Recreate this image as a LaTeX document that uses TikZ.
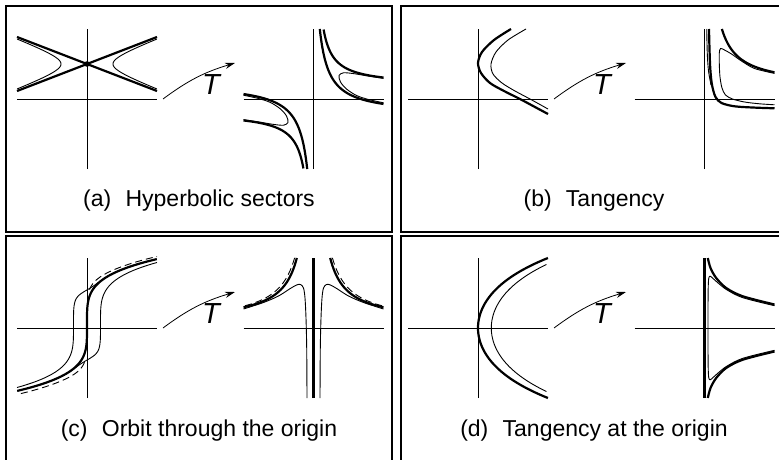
\documentclass[tikz,border=0pt]{standalone}
\usepackage{fontspec}
\setmainfont{Liberation Sans}
\usetikzlibrary{arrows.meta,positioning,calc}

\begin{document}
\begin{tikzpicture}[x=1pt,y=1pt,
    panel/.style={draw,line width=1.8pt},
    axline/.style={line width=0.8pt},
    orb/.style={line width=2.2pt},
    aux/.style={line width=0.9pt},
    dashorb/.style={line width=0.9pt,dash pattern=on 7pt off 4pt},
    maparr/.style={line width=0.8pt,-{Stealth[length=10pt,width=6pt]},bend left=10},
    lab/.style={font=\fontsize{29}{29}\selectfont\itshape,inner sep=0pt},
    subcap/.style={font=\fontsize{23}{27}\selectfont,anchor=base,inner sep=0pt},
  ]
  \useasboundingbox (0,0) rectangle (779,459);
  \clip (0,0) rectangle (779,459);
  \foreach \p/\fx/\fy/\txt in {a/6/227/Hyperbolic sectors,b/401/227/Tangency,c/6/-3/Orbit through the origin,d/401/-3/Tangency at the origin} {
    \draw[panel] (\fx,\fy) rectangle ++(386,226);
    \node[subcap] (cap\p) at (\fx+193,\fy+26) {(\p)\hspace{0.62em}\txt};
  }
  \foreach \p/\ox/\oy in {a/87/360,b/478/360,c/87/131,d/478/131} {
    \coordinate (\p0) at (\ox,\oy);
    \coordinate (\p1) at (\ox+226.5,\oy);
    \draw[axline] (\ox-70,\oy) -- (\ox+70,\oy) (\ox,\oy-70) -- (\ox,\oy+70);
    \draw[axline] (\ox+156.5,\oy) -- (\ox+296.5,\oy) (\ox+226.5,\oy-70) -- (\ox+226.5,\oy+70);
    \coordinate (\p s) at ($(\p0)+(76,0)$);
    \coordinate (\p e) at ($(\p0)+(148,36)$);
    \draw[maparr] (\p s) to (\p e);
    \node[lab] (T\p) at ($(\p0)+(124,14)$) {T};
  }
  % (a)
  \begin{scope}[shift={(a0)}]
    \draw[orb] (-70,8) -- (70,62) (-70,62) -- (70,8);
    \fill (0,35) circle (2.8);
    \draw[aux] plot[domain=-1.645:1.645,samples=40,variable=\t] ({26*cosh(\t)},{35+10*sinh(\t)});
    \draw[aux] plot[domain=-1.645:1.645,samples=40,variable=\t] ({-26*cosh(\t)},{35+10*sinh(\t)});
  \end{scope}
  \foreach \r in {0,180} {
    \begin{scope}[shift={(a1)},rotate=\r]
      \draw[orb] plot[domain=10.1:70,samples=100] (\x,{13.4+566/\x});
      \draw[orb] plot[domain=6.3:70,samples=100] (\x,{-15.9+799/(\x+3)});
      \draw[aux] plot[smooth] coordinates {(70,20.6) (55,22.9) (40,25.4) (30,26.2) (25.5,23.5) (27,17) (33,10) (43,3.5) (55,-0.5) (70,-3.8)};
    \end{scope}
  }
  % (b)
  \begin{scope}[shift={(b0)}]
    \draw[orb] plot[smooth] coordinates {(33,70) (16,59) (4,47) (0,36) (3,26) (12,16) (26,8) (42,0) (56,-7.5) (70,-15)};
    \draw[aux] plot[smooth] coordinates {(48,70) (30,59) (18,47) (13,35) (15,25) (24,16) (37,8) (52,0) (70,-10)};
  \end{scope}
  \begin{scope}[shift={(b1)}]
    \draw[orb] plot[smooth] coordinates {(4.5,70) (5,50) (5.8,30) (7.5,14) (11,2) (17,-4) (30,-7.3) (50,-8.6) (70,-9.3)};
    \draw[aux] plot[smooth] coordinates {(2.2,70) (2.8,45) (4,28) (6.5,14)};
    \draw[orb] plot[domain=17.4:70,samples=80] (\x,{12.4+1002/\x});
    \draw[aux] plot[smooth] coordinates {(70,25.6) (50,30.5) (37,38) (27,45) (20,49) (16,50.5) (14.8,46) (14.8,35) (15.5,22) (17.5,11) (21,4) (28,0) (40,-3) (55,-4.8) (70,-5.8)};
  \end{scope}
  % (c)
  \begin{scope}[shift={(c0)}]
    \draw[orb] plot[domain=-65.9:65.9,samples=120,variable=\t] ({(\t/22.8)^3*abs(\t/22.8)},{3+\t});
    \draw[aux] plot[domain=-62.5:65.9,samples=160,variable=\t] ({(\t/22.8)^3*abs(\t/22.8)-13.5/(1+exp(min((\t-34)/3,9)))},{3+\t});
    \draw[aux] plot[domain=-65.9:62.5,samples=160,variable=\t] ({(\t/22.8)^3*abs(\t/22.8)+13.5/(1+exp(min((-\t-34)/3,9)))},{3+\t});
    \draw[dashorb] plot[domain=2.5:70,samples=80] (\x,{5.5+22.8*\x^0.25+5*exp(-\x/15)});
    \draw[dashorb] plot[domain=2.5:70,samples=80] (-\x,{-0.5-22.8*\x^0.25-6*exp(-\x/15)});
  \end{scope}
  \begin{scope}[shift={(c1)}]
    \draw[orb] (0,-70) -- (0,70);
  \end{scope}
  \foreach \s in {1,-1} {
    \begin{scope}[shift={(c1)},xscale=\s]
      \draw[orb] plot[domain=16.7:70,samples=80] (\x,{5.3+1081/\x});
      \draw[dashorb] plot[domain=18.9:70,samples=80] (\x,{4+1250/\x});
      \draw[aux] plot[smooth] coordinates {(70,19) (50,25.5) (35,32) (24,39) (17,43) (13,43.5) (10,40) (8.5,30) (7.5,10) (6.8,-20) (6.5,-70)};
    \end{scope}
  }
  % (d)
  \begin{scope}[shift={(d0)}]
    \draw[orb] plot[domain=-70:70,samples=100,variable=\t] ({35.6*(cosh(\t/40)-1)},\t);
    \draw[aux] plot[domain=-63.5:63.5,samples=100,variable=\t] ({13.3+35.6*(cosh(\t/40)-1)},\t);
  \end{scope}
  \begin{scope}[shift={(d1)}]
    \draw[orb] (0,-70) -- (0,70);
  \end{scope}
  \foreach \s in {1,-1} {
    \begin{scope}[shift={(d1)},yscale=\s]
      \draw[orb] plot[smooth] coordinates {(3.3,70) (6,60) (11.7,50) (21.7,40) (38.3,31.7) (70,23.5)};
      \draw[aux] plot[smooth] coordinates {(70,22.3) (38,30.4) (22,38.4) (13,45.5) (8,50) (5.5,51.8) (4.2,49.5) (3.7,40) (3.5,20) (3.5,0)};
    \end{scope}
  }
\end{tikzpicture}
\end{document}
